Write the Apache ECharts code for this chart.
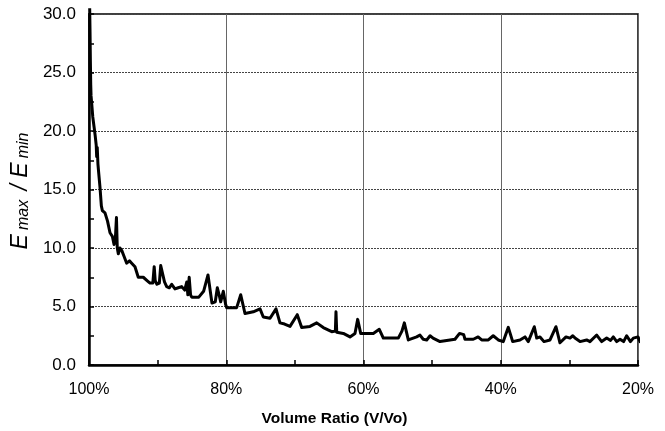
<!DOCTYPE html>
<html>
<head>
<meta charset="utf-8">
<script src="https://cdn.jsdelivr.net/npm/echarts@6/dist/echarts.min.js"></script>
<style>html,body{margin:0;padding:0;background:#fff}#c{width:665px;height:431px}</style>
</head>
<body>
<div id="c"></div>
<script>
var volumeRatio = [99.9,99.85,99.8,99.75,99.7,99.6,99.45,99.25,99.1,98.95,98.88,98.8,98.7,98.6,98.4,98.2,98.05,97.67,97.3,96.94,96.6,96.35,96.15,96.0,95.88,95.73,95.5,95.23,94.9,94.51,94.1,93.78,93.3,92.82,92.09,91.5,91.11,90.7,90.5,90.35,90.1,89.75,89.55,89.3,89.0,88.68,88.3,87.95,87.47,87.0,86.49,86.05,85.75,85.6,85.4,85.2,85.03,84.0,83.3,82.66,82.3,82.08,81.6,81.3,81.0,80.81,80.43,80.1,79.93,78.48,77.89,77.27,76.06,75.08,74.6,73.62,72.75,72.17,71.5,70.71,69.65,69.01,67.8,66.82,65.86,64.63,64.1,64.01,63.9,63.82,62.94,61.97,61.24,60.85,60.41,58.57,57.7,57.11,54.93,54.4,54.05,53.47,52.25,51.77,51.3,50.79,50.3,49.87,48.85,47.39,46.67,46.0,45.4,45.21,44.0,43.3,42.78,41.81,41.1,40.36,39.63,38.9,38.26,37.2,36.47,35.99,35.11,34.76,34.28,33.7,32.82,31.95,31.37,30.49,29.91,29.5,29.18,28.45,27.48,27.0,26.02,25.29,24.56,24.0,23.6,23.1,22.62,22.1,21.65,21.1,20.68,20.0,19.7,19.46,19.2,18.88];
var emaxEmin = [30.5,28.5,26.0,24.0,23.0,22.3,21.2,20.3,19.6,18.8,17.8,18.6,17.2,16.5,15.2,13.6,13.2,13.0,12.3,11.3,11.0,10.3,10.9,12.6,10.0,9.5,10.0,9.8,9.3,8.7,8.9,8.7,8.4,7.5,7.5,7.2,7.0,7.0,8.4,7.2,6.9,7.0,8.5,8.4,7.1,6.7,6.6,6.9,6.5,6.6,6.7,6.4,7.1,6.0,7.5,6.0,5.8,5.8,6.3,7.7,6.2,5.3,5.4,6.6,5.9,5.4,6.3,5.2,4.9,4.9,6.0,4.4,4.55,4.8,4.1,4.0,4.8,3.6,3.5,3.3,4.3,3.2,3.3,3.6,3.2,2.85,2.9,4.55,2.8,2.7,2.7,2.4,2.7,3.9,2.7,2.7,3.05,2.3,2.3,2.9,3.6,2.14,2.4,2.56,2.2,2.14,2.5,2.3,2.0,2.14,2.2,2.7,2.6,2.2,2.2,2.4,2.14,2.14,2.5,2.14,2.0,3.22,2.0,2.14,2.4,2.0,3.27,2.3,2.4,2.0,2.14,3.27,1.9,2.4,2.3,2.5,2.3,2.0,2.14,2.0,2.56,2.0,2.3,2.1,2.4,2.0,2.2,2.0,2.5,2.0,2.3,2.4,2.0,2.3,1.9,2.14];
var xTickValues = [100, 80, 60, 40, 20];
var yTickValues = [0, 5, 10, 15, 20, 25, 30];

var seriesData = volumeRatio.map(function (v, i) { return [v, emaxEmin[i]]; });
var font = 'Liberation Sans, Arial, Helvetica, sans-serif';

var chart = echarts.init(document.getElementById('c'), null, {renderer: 'canvas'});
chart.setOption({
  animation: false,
  backgroundColor: '#fff',
  grid: {left: 89, right: 27, top: 14, bottom: 66, containLabel: false, outerBoundsMode: 'none',
    show: true, borderColor: '#000', borderWidth: 1.5, backgroundColor: 'transparent'},
  xAxis: {
    type: 'value', min: 20, max: 100, interval: 20, inverse: true,
    axisLine: {onZero: false, lineStyle: {color: '#000', width: 2.5}},
    axisTick: {show: true, inside: true, length: 5, lineStyle: {color: '#000', width: 1.5}},
    minorTick: {show: true, splitNumber: 2, length: 5, lineStyle: {color: '#000', width: 1.5}},
    splitLine: {show: true, lineStyle: {color: '#666', width: 1}},
    axisLabel: {color: '#000', fontSize: 16, fontFamily: font, margin: 17,
      formatter: function (v) { return xTickValues.indexOf(v) >= 0 ? v + '%' : ''; }},
    name: 'Volume Ratio (V/Vo)', nameLocation: 'middle', nameGap: 46,
    nameTextStyle: {color: '#000', fontSize: 15.5, fontWeight: 'bold', fontFamily: font, padding: [0, 58, 0, 0]}
  },
  yAxis: {
    type: 'value', min: 0, max: 30, interval: 5,
    axisLine: {show: true, onZero: false, lineStyle: {color: '#000', width: 2.5}},
    axisTick: {show: true, inside: true, length: 5, lineStyle: {color: '#000', width: 1.5}},
    minorTick: {show: true, splitNumber: 2, length: 5, lineStyle: {color: '#000', width: 1.5}},
    splitLine: {show: true, lineStyle: {color: '#444', width: 1, type: [2, 1]}},
    axisLabel: {color: '#000', fontSize: 17, fontFamily: font, margin: 13,
      formatter: function (v) { return yTickValues.indexOf(v) >= 0 ? v.toFixed(1) : ''; }},
    name: '{e|E}{s|max}{e| / E}{s|min}', nameLocation: 'middle', nameRotate: 90, nameGap: 56,
    nameTextStyle: {
      color: '#000', fontFamily: font,
      rich: {
        e: {fontSize: 23, fontStyle: 'italic', fontFamily: font, color: '#000', lineHeight: 23, verticalAlign: 'top'},
        s: {fontSize: 16, fontStyle: 'italic', fontFamily: font, color: '#000', lineHeight: 16, padding: [12, 3, 0, 4], verticalAlign: 'bottom'}
      }
    }
  },
  series: [{
    type: 'line', data: seriesData, showSymbol: false, clip: false,
    lineStyle: {color: '#000', width: 3, join: 'round'}
  }]
});
</script>
</body>
</html>
